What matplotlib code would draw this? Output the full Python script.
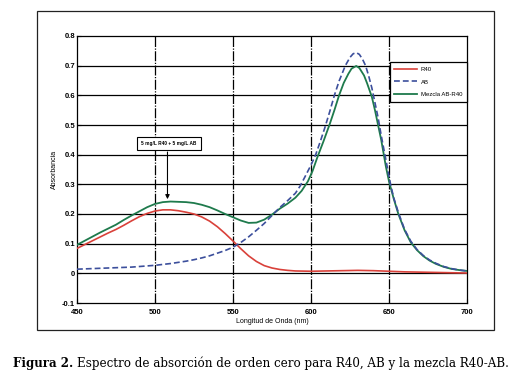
import numpy as np
import matplotlib
matplotlib.use("Agg")
import matplotlib.pyplot as plt
from matplotlib import font_manager
from matplotlib.patches import Rectangle

# wavelength (nm) and absorbance
wl_r40 = [450, 455, 460, 465, 470, 475, 480, 485, 490, 495, 500, 505, 510, 515,
          520, 525, 530, 535, 540, 545, 550, 555, 560, 565, 570, 575, 580, 585,
          590, 600, 610, 620, 630, 640, 650, 660, 670, 680, 690, 700]
abs_r40 = [0.084, 0.097, 0.110, 0.123, 0.136, 0.148, 0.162, 0.177, 0.191, 0.202,
           0.210, 0.214, 0.214, 0.211, 0.206, 0.200, 0.190, 0.176, 0.157, 0.134,
           0.109, 0.083, 0.059, 0.040, 0.026, 0.018, 0.013, 0.010, 0.008, 0.007,
           0.008, 0.009, 0.010, 0.009, 0.007, 0.005, 0.004, 0.003, 0.002, 0.001]

wl_ab = [450, 455, 460, 465, 470, 475, 480, 485, 490, 495, 500, 505, 510, 515,
         520, 525, 530, 535, 540, 545, 550, 555, 560, 565, 570, 575, 580, 585,
         590, 593, 596, 600, 603, 606, 609, 612, 615, 618, 622, 625, 627, 629,
         631, 633, 635, 637, 639, 641, 643, 645, 647, 649, 651, 653, 656, 660,
         664, 668, 672, 676, 680, 685, 690, 695, 700]
abs_ab = [0.014, 0.015, 0.016, 0.017, 0.018, 0.019, 0.020, 0.021, 0.023, 0.025,
          0.027, 0.030, 0.033, 0.037, 0.041, 0.046, 0.052, 0.059, 0.068, 0.077,
          0.088, 0.104, 0.123, 0.145, 0.168, 0.195, 0.222, 0.245, 0.270, 0.294,
          0.324, 0.365, 0.400, 0.445, 0.493, 0.545, 0.600, 0.648, 0.700, 0.728,
          0.740, 0.744, 0.738, 0.722, 0.700, 0.665, 0.625, 0.575, 0.525, 0.465,
          0.410, 0.355, 0.300, 0.255, 0.205, 0.148, 0.108, 0.080, 0.060, 0.045,
          0.034, 0.023, 0.016, 0.011, 0.008]

wl_mix = [450, 455, 460, 465, 470, 475, 480, 485, 490, 495, 500, 505, 510, 515,
          520, 525, 530, 535, 540, 545, 550, 555, 560, 565, 570, 575, 580, 585,
          590, 594, 598, 601, 604, 608, 612, 615, 618, 621, 624, 626, 629, 631,
          634, 636, 639, 641, 643, 645, 646, 648, 650, 653, 656, 660, 664, 668,
          672, 676, 680, 685, 690, 695, 700]
abs_mix = [0.096, 0.110, 0.124, 0.138, 0.151, 0.164, 0.180, 0.195, 0.209, 0.223,
           0.234, 0.240, 0.242, 0.241, 0.240, 0.237, 0.231, 0.223, 0.212, 0.200,
           0.189, 0.178, 0.170, 0.171, 0.181, 0.198, 0.218, 0.235, 0.255, 0.278,
           0.310, 0.345, 0.390, 0.445, 0.503, 0.550, 0.600, 0.642, 0.673, 0.690,
           0.699, 0.692, 0.667, 0.640, 0.595, 0.550, 0.500, 0.450, 0.420, 0.360,
           0.310, 0.252, 0.200, 0.145, 0.104, 0.078, 0.058, 0.043, 0.032, 0.022,
           0.015, 0.011, 0.008]

x_ticks = [450, 500, 550, 600, 650, 700]
y_ticks = [-0.1, 0, 0.1, 0.2, 0.3, 0.4, 0.5, 0.6, 0.7, 0.8]
y_tick_labels = ["-0.1", "0", "0.1", "0.2", "0.3", "0.4", "0.5", "0.6", "0.7", "0.8"]

names = {f.name for f in font_manager.fontManager.ttflist}
narrow = "Liberation Sans Narrow" if "Liberation Sans Narrow" in names else "Liberation Sans"
plt.rcParams['font.family'] = [narrow, 'DejaVu Sans']

fig = plt.figure(figsize=(5.30, 3.89), dpi=100)
ax = fig.add_axes([77/530, 1-303/389, 390/530, 267/389])

# outer frame around the plot
fig.patches.append(Rectangle((37/530, 1-330/389), 457/530, 319/389, transform=fig.transFigure,
                             fill=False, edgecolor='#222222', linewidth=0.9))

ax.plot(wl_r40, abs_r40, color='#d9413a', lw=1.2, label='R40', zorder=3)
ax.plot(wl_ab, abs_ab, color='#3c4f9c', lw=1.2, ls=(0, (3.5, 1.8)), label='AB', zorder=4)
ax.plot(wl_mix, abs_mix, color='#1e7a4c', lw=1.3, label='Mezcla AB-R40', zorder=3)

ax.set_xlim(450, 700)
ax.set_ylim(-0.1, 0.8)
ax.set_xticks(x_ticks)
ax.set_yticks(y_ticks)
ax.set_yticklabels(y_tick_labels)
ax.tick_params(direction='in', length=3, width=0.8, labelsize=5.5, pad=1.5)
ax.tick_params(axis='x', pad=4)
for lab in ax.get_xticklabels() + ax.get_yticklabels():
    lab.set_fontweight('bold')

for y in y_ticks[1:-1]:
    ax.axhline(y, color='black', lw=0.9, zorder=1)
for x in x_ticks[1:-1]:
    ax.axvline(x, color='black', lw=0.9, ls=(0, (8, 1.2, 1, 1.2)), zorder=1)
for s in ax.spines.values():
    s.set_linewidth(0.9)

ax.set_xlabel('Longitud de Onda (nm)', fontsize=5, labelpad=2)
ax.set_ylabel('Absorbancia', fontsize=5, labelpad=3)

leg = ax.legend(loc='upper right', bbox_to_anchor=(1.0, 0.903), borderaxespad=0,
                fontsize=4.3, fancybox=False, framealpha=1, edgecolor='black',
                handlelength=3.8, handletextpad=0.6, labelspacing=1.25,
                borderpad=0.8)
leg.get_frame().set_linewidth(0.9)

ax.annotate('', xy=(508, 0.250), xytext=(508, 0.409),
            arrowprops=dict(arrowstyle='-|>', color='black', lw=0.8,
                            mutation_scale=6, shrinkA=0, shrinkB=0), zorder=5)
ax.text(509, 0.438, '5 mg/L R40 + 5 mg/L AB', fontsize=3.4, fontweight='bold',
        ha='center', va='center', zorder=6,
        bbox=dict(boxstyle='square,pad=0.9', facecolor='white', edgecolor='black', lw=0.8))

# caption: bold label then normal text
cap_y = 1 - 363/389
t1 = fig.text(13/530, cap_y, 'Figura 2.', fontsize=8.6, fontweight='bold',
              family='DejaVu Serif', va='center', ha='left')
fig.canvas.draw()
bb = t1.get_window_extent(fig.canvas.get_renderer())
fig.text((bb.x1 + 4)/530, cap_y,
         'Espectro de absorción de orden cero para R40, AB y la mezcla R40-AB.',
         fontsize=8.6, family='DejaVu Serif', va='center', ha='left')

fig.savefig('out.png', dpi=100)
